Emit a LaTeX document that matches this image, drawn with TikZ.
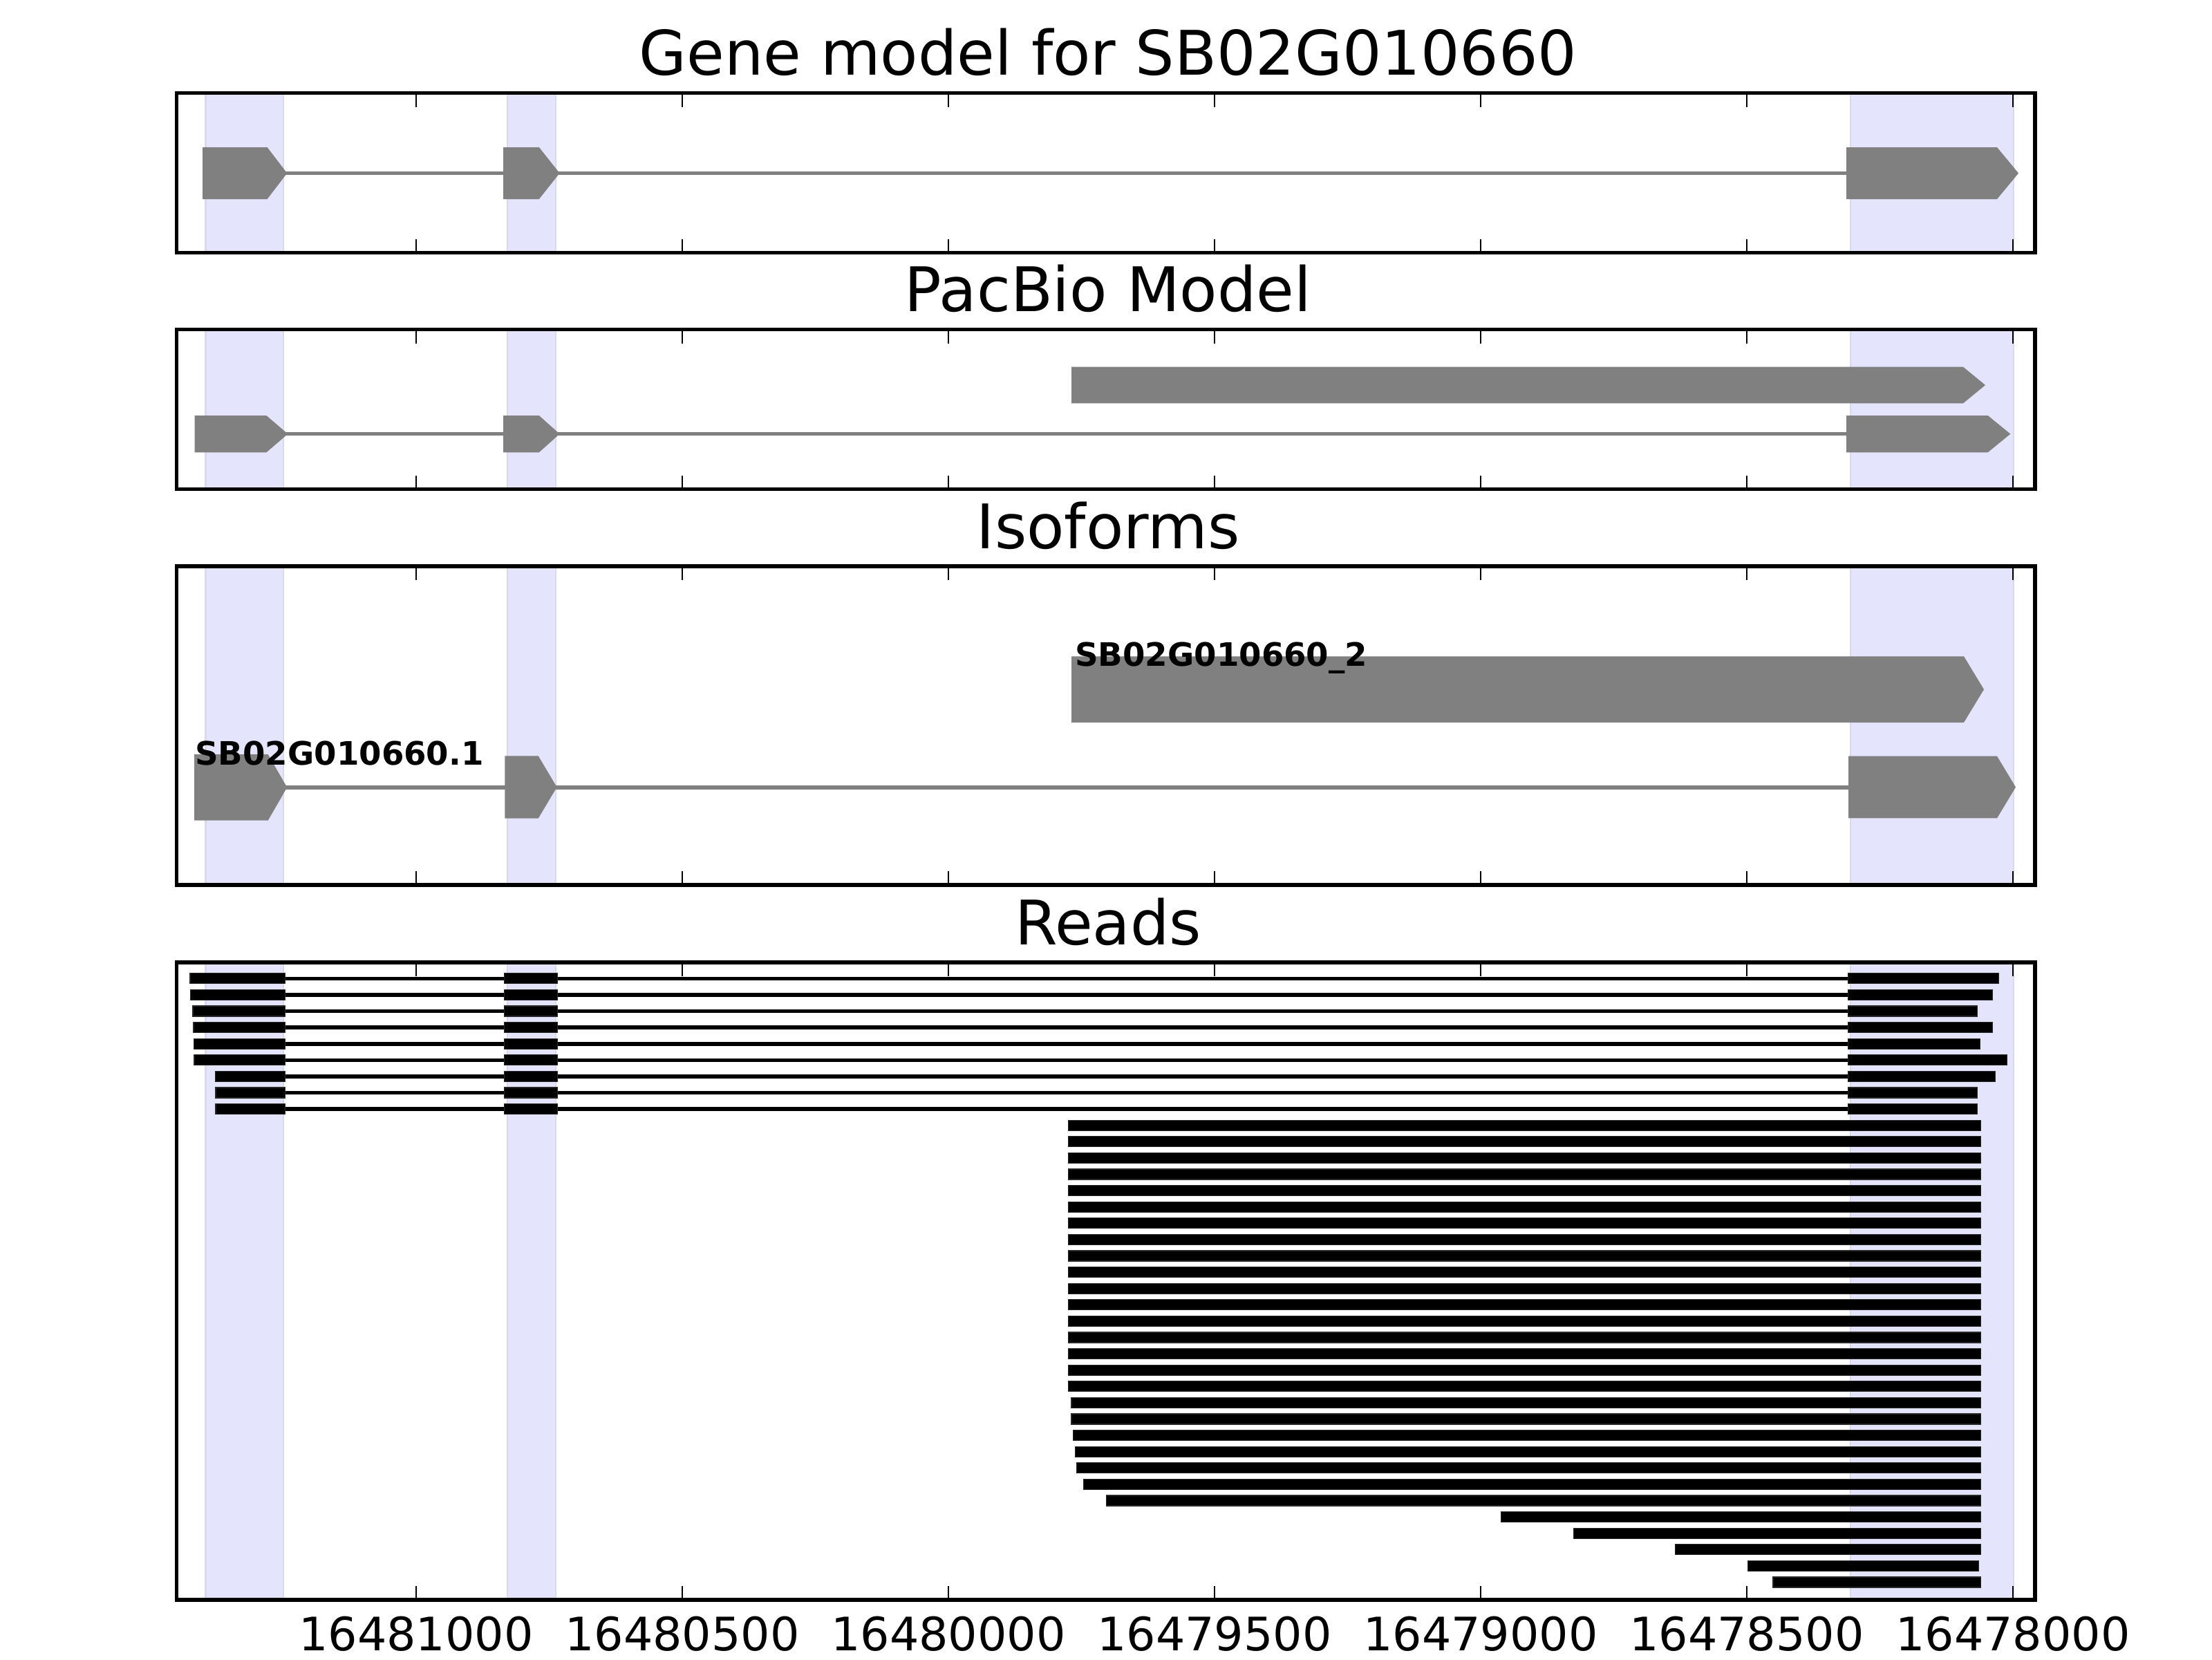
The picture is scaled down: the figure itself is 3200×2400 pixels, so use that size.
\documentclass[tikz,border=0pt]{standalone}
\usepackage{fontspec}
\setmainfont{DejaVu Sans}
\definecolor{exongray}{RGB}{128,128,128}
\definecolor{bandfill}{RGB}{228,228,252}
\definecolor{bandedge}{RGB}{216,216,238}
\definecolor{readedge}{RGB}{40,40,40}
\newcommand{\exonshape}[5]{\fill[exongray] (#1,#4) -- (#2,#4) -- (#3,{(#4+#5)/2}) -- (#2,#5) -- (#1,#5) -- cycle;}
\begin{document}
\begin{tikzpicture}[x=0.18pt,y=-0.18pt,
  band/.style={fill=bandfill,draw=bandedge,line width=0.5pt},
  frame/.style={draw=black,line width=1pt},
  tickmark/.style={draw=black,line width=0.5pt},
  intron/.style={draw=exongray,line width=1pt},
  readbar/.style={fill=black,draw=readedge,line width=0.2pt},
  readline/.style={draw=black,line width=1pt},
  titletext/.style={anchor=base,inner sep=0pt,font=\fontsize{16}{19}\selectfont},
  ticktext/.style={anchor=base,inner sep=0pt,font=\fontsize{12}{14}\selectfont},
  isotext/.style={anchor=base west,inner sep=0pt,font=\bfseries\fontsize{8.4}{10}\selectfont}]
\useasboundingbox (0,0) rectangle (3200,2400);
\fill[white] (0,0) rectangle (3200,2400);

% ---- bands in all panels ----
\foreach \t/\b in {134.7/365.7, 476.7/707.7, 819/1280, 1392/2313.7}{
  \foreach \l/\r in {297.6/410.1, 733.9/803.9, 2677/2913}{
    \filldraw[band] (\l,\t) rectangle (\r,\b);
  }
}

% ---- Panel 1: gene model ----
\draw[intron] (300,250.5) -- (2700,250.5);
\exonshape{293}{386.6}{415.3}{213}{288}
\exonshape{728}{779.8}{809.6}{213}{288}
\exonshape{2671}{2889}{2920}{213}{288}

% ---- Panel 2: PacBio model ----
\exonshape{1550}{2840}{2872}{530.7}{583.3}
\draw[intron] (300,627.6) -- (2700,627.6);
\exonshape{281.5}{385.4}{416.4}{601}{654.3}
\exonshape{728}{779.8}{809.6}{601}{654.3}
\exonshape{2671}{2875.7}{2908.3}{601}{654.3}

% ---- Panel 3: Isoforms ----
\exonshape{1550}{2841}{2870}{949.3}{1045}
\draw[intron] (300,1138.7) -- (2700,1138.7);
\exonshape{281}{387.7}{415.3}{1091}{1186.7}
\exonshape{730.4}{778.7}{805.6}{1093.3}{1183.7}
\exonshape{2674}{2889}{2916}{1093.7}{1183.3}
\node[isotext] (iso1) at (281,1106) {SB02G010660.1};
\node[isotext] (iso2) at (1554,963) {SB02G010660\_2};

% ---- Panel 4: Reads ----
\foreach \n/\s/\e in {1/275/2891, 2/275.9/2882, 3/279/2860.3, 4/280/2882.3, 5/280.8/2864.3, 6/281/2903.3, 7/311.2/2886.7, 8/312/2860.3, 9/312/2860.3}{
  \pgfmathsetmacro\yc{1415.3+(\n-1)*23.6}
  \draw[readline] (\s,\yc) -- (\e,\yc);
  \filldraw[readbar] (\s,\yc-7.5) rectangle (412.5,\yc+7.5);
  \filldraw[readbar] (729.9,\yc-7.5) rectangle (806.7,\yc+7.5);
  \filldraw[readbar] (2673.3,\yc-7.5) rectangle (\e,\yc+7.5);
}
\foreach \n/\s/\e in {10/1545.3/2865, 11/1545.3/2865, 12/1545.3/2865, 13/1545.3/2865, 14/1545.3/2865, 15/1545.3/2865, 16/1545.3/2865, 17/1545.3/2865, 18/1545.3/2865, 19/1545.3/2865, 20/1545.3/2865, 21/1545.3/2865, 22/1545.3/2865, 23/1545.3/2865, 24/1545.3/2865, 25/1545.3/2865, 26/1545.3/2865, 27/1550/2865, 28/1550/2865, 29/1552.3/2865, 30/1555.3/2865, 31/1557.3/2865, 32/1567.3/2865, 33/1600.3/2865, 34/2171.2/2865, 35/2276.8/2865, 36/2423.8/2865, 37/2528.2/2862, 38/2565/2865}{
  \pgfmathsetmacro\yc{1415.3+(\n-1)*23.6}
  \filldraw[readbar] (\s,\yc-7.5) rectangle (\e,\yc+7.5);
}

% ---- ticks and frames ----
\foreach \t/\b in {134.7/365.7, 476.7/707.7, 819/1280, 1392/2313.7}{
  \foreach \i in {0,...,6}{
    \draw[tickmark] ({602+\i*385},\t) -- ({602+\i*385},\t+20);
    \draw[tickmark] ({602+\i*385},\b) -- ({602+\i*385},\b-20);
  }
  \draw[frame] (255.7,\t) rectangle (2944,\b);
}

% ---- titles ----
\node[titletext] (t1) at (1603,108.7) {Gene model for SB02G010660};
\node[titletext] (t2) at (1603,450.7) {PacBio Model};
\node[titletext] (t3) at (1603,793) {Isoforms};
\node[titletext] (t4) at (1603,1366) {Reads};

% ---- tick labels ----
\foreach \i/\lab in {0/16481000, 1/16480500, 2/16480000, 3/16479500, 4/16479000, 5/16478500, 6/16478000}{
  \node[ticktext] (tl\i) at ({602+\i*385},2387) {\lab};
}
\end{tikzpicture}
\end{document}
